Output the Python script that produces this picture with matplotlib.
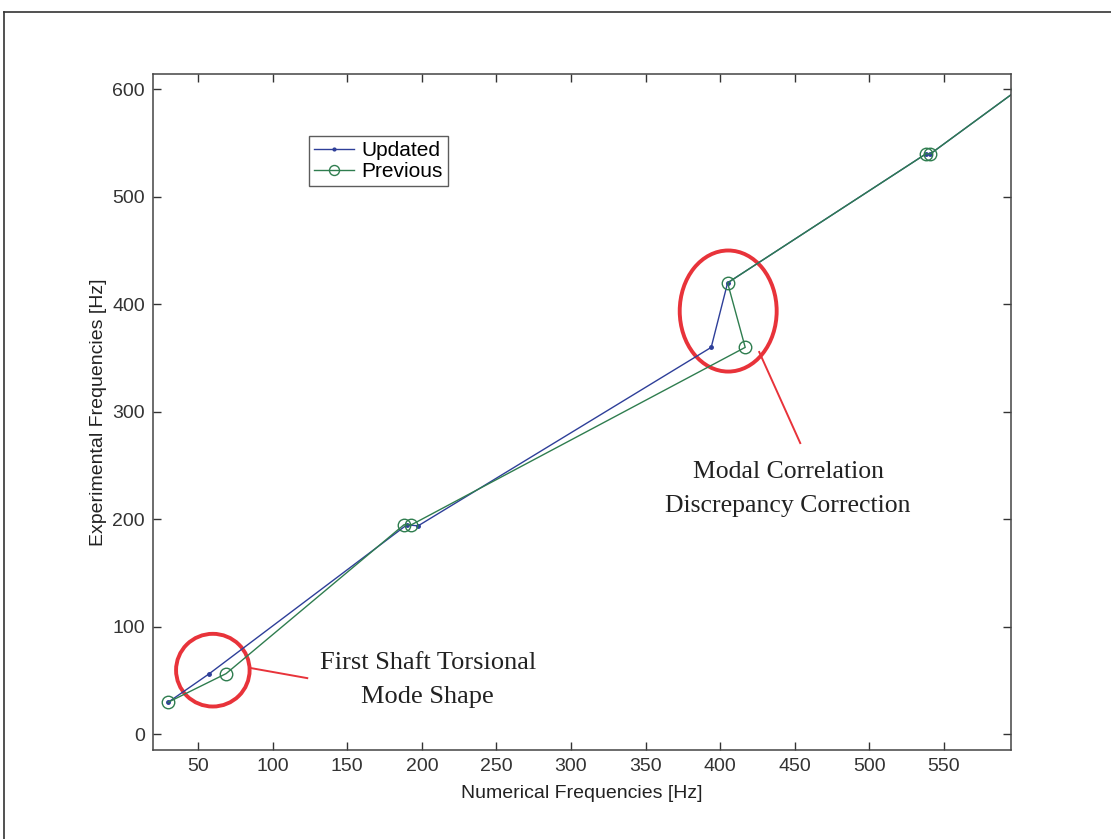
import matplotlib.pyplot as plt
from matplotlib.patches import Ellipse
from matplotlib.lines import Line2D

# Data (numerical vs experimental frequencies, Hz)
upd_num = [30, 57.6, 190, 197.5, 394, 405, 538, 541, 600]
upd_exp = [30, 56.6, 195, 194, 360, 420, 540, 540, 600]
prev_num = [30, 68.8, 188, 193, 416.8, 405, 538, 541, 600]
prev_exp = [30, 56.6, 195, 195, 360, 420, 540, 540, 600]

x_ticks = [50, 100, 150, 200, 250, 300, 350, 400, 450, 500, 550]
y_ticks = [0, 100, 200, 300, 400, 500, 600]

plt.rcParams['font.family'] = ['Liberation Sans', 'DejaVu Sans']

fig = plt.figure(figsize=(11.11, 8.39), dpi=100)
ax = fig.add_axes([0.138, 0.106, 0.772, 0.8055])

blue = '#2e3f99'
green = '#2f7d4f'
ax.plot(upd_num, upd_exp, color=blue, lw=1.0, marker='.', ms=5, label='Updated')
ax.plot(prev_num, prev_exp, color=green, lw=1.0, marker='o', ms=9,
        mfc='none', mec=green, mew=1.0, label='Previous')

ax.set_xlim(20, 595)
ax.set_ylim(-14.5, 614)
ax.set_xticks(x_ticks)
ax.set_yticks(y_ticks)
ax.tick_params(direction='in', length=6, width=1, top=True, right=True,
               labelsize=14, colors='#333333', pad=6)
for s in ax.spines.values():
    s.set_color('#444444')
    s.set_linewidth(1.1)

ax.set_xlabel('Numerical Frequencies [Hz]', fontsize=14, color='#222222', labelpad=7)
ax.set_ylabel('Experimental Frequencies [Hz]', fontsize=14, color='#222222', labelpad=4)

leg = ax.legend(loc='upper left', bbox_to_anchor=(0.1815, 0.9087), fontsize=15,
                frameon=True, fancybox=False, borderpad=0.25, handlelength=1.9,
                labelspacing=0.1, handletextpad=0.35, borderaxespad=0, markerscale=0.8)
leg.get_frame().set_edgecolor('#333333')
leg.get_frame().set_linewidth(1.0)

# red annotation ellipses and pointer lines
red = '#e8333a'
ax.add_patch(Ellipse((59.9, 59.8), 49.3, 67.6, fill=False, ec=red, lw=2.8, clip_on=False))
ax.add_patch(Ellipse((405.4, 393.8), 65, 112.6, fill=False, ec=red, lw=2.8, clip_on=False))
ax.add_line(Line2D([84.4, 123.2], [62, 52.4], color=red, lw=1.4))
ax.add_line(Line2D([426.2, 453.7], [355.7, 271], color=red, lw=1.4))

ax.text(204, 50.5, 'First Shaft Torsional\nMode Shape', ha='center', va='center',
        fontsize=19, family='Liberation Serif', linespacing=1.7, color='#222222')
ax.text(445.6, 228.6, 'Modal Correlation\nDiscrepancy Correction', ha='center', va='center',
        fontsize=18.5, family='Liberation Serif', linespacing=1.7, color='#222222')

# outer page frame
fig.add_artist(Line2D([4 / 1111, 4 / 1111], [0, 1 - 12 / 839], color='#333333', lw=1.2,
                      transform=fig.transFigure))
fig.add_artist(Line2D([4 / 1111, 1], [1 - 12 / 839, 1 - 12 / 839], color='#333333', lw=1.2,
                      transform=fig.transFigure))

fig.savefig('out.png', dpi=100)
